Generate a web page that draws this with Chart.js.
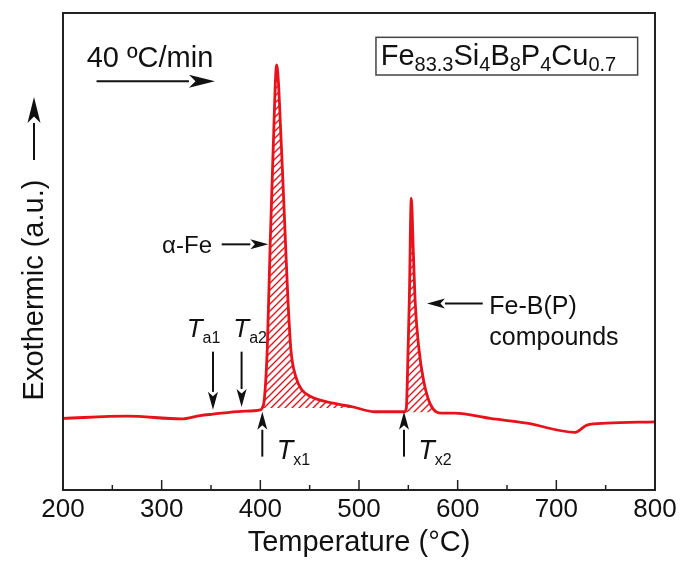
<!DOCTYPE html>
<html>
<head>
<meta charset="utf-8">
<script src="https://cdn.jsdelivr.net/npm/chart.js@4/dist/chart.umd.min.js"></script>
<style>
  html, body { margin: 0; padding: 0; background: #fff; }
  #wrap { width: 693px; height: 562px; }
</style>
</head>
<body>
<div id="wrap"><canvas id="dsc" width="693" height="562"></canvas></div>
<script>
// DSC trace (temperature in degC, heat flow in arbitrary units 0-100)
const temps = [200, 265, 320, 339, 352, 381, 400, 402, 404, 407, 410, 413, 416.5, 421.5, 425.5, 428, 431, 436, 442, 452, 474, 494,
  516, 543, 546, 548, 549, 551, 553, 555, 557, 560.5, 565.5, 572.5, 584, 597, 633, 670, 719, 731, 751, 800];
const heatFlow = [15.0, 15.5, 14.9, 15.6, 15.9, 16.5, 16.8, 17.2, 18.9, 29.4, 51.8, 71.3, 89.1, 71.3, 51.8, 39.8, 29.4, 23.7, 21.0, 19.5, 18.2, 17.4,
  16.4, 16.4, 16.4, 17.2, 23.1, 39.8, 61.2, 50.3, 39.2, 30.0, 22.9, 17.9, 16.1, 16.1, 15.0, 14.0, 12.1, 13.6, 14.0, 14.3];

// crystallization peaks (hatched): [start, end, baseline level]
const peak1 = [402, 494, 17.2];
const peak2 = [546, 584, 16.3];

const xTicks = [200, 300, 400, 500, 600, 700, 800];

const RED = "rgb(232,18,26)";
const FONT = "'Liberation Sans', Arial, sans-serif";

const points = temps.map((t, i) => ({ x: t, y: heatFlow[i] }));
const inRange = (p, r) => points.filter((pt) => pt.x >= r[0] && pt.x <= r[1]);

var canvas = document.getElementById("dsc");
var ctx = canvas.getContext("2d");

function hatch(color) {
  const c = document.createElement("canvas");
  c.width = 7;
  c.height = 7;
  const g = c.getContext("2d");
  g.strokeStyle = color;
  g.lineWidth = 1.4;
  g.beginPath();
  g.moveTo(0, 7); g.lineTo(7, 0);
  g.moveTo(-2, 2); g.lineTo(2, -2);
  g.moveTo(5, 9); g.lineTo(9, 5);
  g.stroke();
  return ctx.createPattern(c, "repeat");
}

function arrow(c, x1, y1, x2, y2, head, wide) {
  const ang = Math.atan2(y2 - y1, x2 - x1);
  const bx = x2 - head * Math.cos(ang), by = y2 - head * Math.sin(ang);
  c.beginPath();
  c.moveTo(x1, y1);
  c.lineTo(bx, by);
  c.stroke();
  const nx = -Math.sin(ang) * wide / 2, ny = Math.cos(ang) * wide / 2;
  c.beginPath();
  c.moveTo(x2, y2);
  c.lineTo(bx + nx, by + ny);
  c.lineTo(bx + head * 0.25 * Math.cos(ang), by + head * 0.25 * Math.sin(ang));
  c.lineTo(bx - nx, by - ny);
  c.closePath();
  c.fill();
}

// parts: [text, isSubscript]
function rich(c, parts, x, y, size, subSize, drop, italicMain) {
  let cx = x;
  parts.forEach(([t, sub]) => {
    c.font = sub ? subSize + "px " + FONT : (italicMain ? "italic " : "") + size + "px " + FONT;
    c.fillText(t, cx, sub ? y + drop : y);
    cx += c.measureText(t).width;
  });
}

const annotate = {
  id: "annotate",
  afterDraw(chart) {
    const c = chart.ctx;
    const a = chart.chartArea;
    const X = (v) => chart.scales.x.getPixelForValue(v);
    const Y = (v) => chart.scales.y.getPixelForValue(v);
    c.save();
    c.fillStyle = "#111";
    c.strokeStyle = "#111";
    c.textAlign = "left";
    c.textBaseline = "alphabetic";

    // frame
    c.lineWidth = 2;
    c.strokeStyle = "#222";
    c.strokeRect(a.left, a.top, a.right - a.left, a.bottom - a.top);

    // inside ticks, major every 100, minor every 50
    c.lineWidth = 1.5;
    for (let t = 250; t < 800; t += 50) {
      const len = t % 100 === 0 ? 10 : 5;
      c.beginPath();
      c.moveTo(X(t), a.bottom);
      c.lineTo(X(t), a.bottom - len);
      c.stroke();
    }

    c.strokeStyle = "#111";
    c.lineWidth = 2;

    // heating rate
    c.font = "29px " + FONT;
    c.fillText("40 ºC/min", X(224), Y(88.7));
    arrow(c, X(234), Y(85.7), X(354), Y(85.7), 26, 13);

    // composition box
    c.lineWidth = 1.5;
    c.strokeStyle = "#444";
    c.strokeRect(X(517.2), Y(94.9), X(782.4) - X(517.2), Y(87.0) - Y(94.9));
    rich(c, [["Fe", 0], ["83.3", 1], ["Si", 0], ["4", 1], ["B", 0], ["8", 1], ["P", 0], ["4", 1], ["Cu", 0], ["0.7", 1]],
      X(522), Y(89.1), 29, 20, 6, false);
    c.strokeStyle = "#111";
    c.lineWidth = 2;

    // alpha-Fe
    c.font = "24px " + FONT;
    c.textAlign = "right";
    c.fillText("α-Fe", X(351), Y(49.6));
    c.textAlign = "left";
    arrow(c, X(360.8), Y(51.5), X(408.1), Y(51.5), 18, 10);

    // Fe-B(P) compounds
    c.font = "25px " + FONT;
    c.fillText("Fe-B(P)", X(632.1), Y(37.0));
    c.fillText("compounds", X(632.1), Y(30.3));
    arrow(c, X(625.4), Y(39.1), X(568.9), Y(39.1), 18, 10);

    // annealing temperatures
    rich(c, [["T", 0], ["a1", 1]], X(325.4), Y(32.1), 26, 16, 6, true);
    rich(c, [["T", 0], ["a2", 1]], X(372.6), Y(32.1), 26, 16, 6, true);
    arrow(c, X(352), Y(29.0), X(352), Y(16.8), 18, 10);
    arrow(c, X(381), Y(29.0), X(381), Y(17.4), 18, 10);

    // onset temperatures
    rich(c, [["T", 0], ["x1", 1]], X(416.6), Y(6.6), 27, 16, 6, true);
    rich(c, [["T", 0], ["x2", 1]], X(560.1), Y(6.6), 27, 16, 6, true);
    arrow(c, X(402), Y(7.0), X(402), Y(16.4), 18, 10);
    arrow(c, X(545.6), Y(7.0), X(545.6), Y(16.4), 18, 10);

    // y axis title with arrow
    c.font = "29px " + FONT;
    c.save();
    c.translate(a.left - 20, 290);
    c.rotate(-Math.PI / 2);
    c.textAlign = "center";
    c.fillText("Exothermic (a.u.)", 0, 0);
    c.restore();
    arrow(c, a.left - 29, 160, a.left - 29, 97, 26, 13);

    c.restore();
  },
};

var dscChart = new Chart(ctx, {
  type: "line",
  data: {
    datasets: [
      {
        label: "DSC",
        data: points,
        borderColor: RED,
        borderWidth: 2.8,
        pointRadius: 0,
        fill: false,
        cubicInterpolationMode: "monotone",
        order: 0,
      },
      {
        label: "peak 1",
        data: inRange(points, peak1),
        borderWidth: 0,
        borderColor: "rgba(0,0,0,0)",
        backgroundColor: hatch(RED),
        pointRadius: 0,
        fill: { value: peak1[2] },
        cubicInterpolationMode: "monotone",
        order: 1,
      },
      {
        label: "peak 2",
        data: inRange(points, peak2),
        borderWidth: 0,
        borderColor: "rgba(0,0,0,0)",
        backgroundColor: hatch(RED),
        pointRadius: 0,
        fill: { value: peak2[2] },
        cubicInterpolationMode: "monotone",
        order: 1,
      },
    ],
  },
  options: {
    responsive: false,
    animation: false,
    layout: { padding: { top: 13, right: 38, left: 0, bottom: 0 } },
    plugins: {
      legend: { display: false },
      tooltip: { enabled: false },
    },
    scales: {
      x: {
        type: "linear",
        min: 200,
        max: 800,
        afterBuildTicks: (scale) => {
          scale.ticks = xTicks.map((v) => ({ value: v }));
        },
        afterFit: (scale) => {
          scale.height = 72;
        },
        grid: { display: false, drawTicks: false },
        border: { display: false },
        ticks: {
          color: "#111",
          padding: 4,
          maxRotation: 0,
          font: { family: FONT, size: 26 },
        },
        title: {
          display: true,
          text: "Temperature (°C)",
          color: "#111",
          padding: { top: 0, bottom: 2 },
          font: { family: FONT, size: 29 },
        },
      },
      y: {
        min: 0,
        max: 100,
        afterFit: (scale) => {
          scale.width = 63;
        },
        grid: { display: false, drawTicks: false },
        border: { display: false },
        ticks: { display: false },
      },
    },
  },
  plugins: [annotate],
});
</script>
</body>
</html>
